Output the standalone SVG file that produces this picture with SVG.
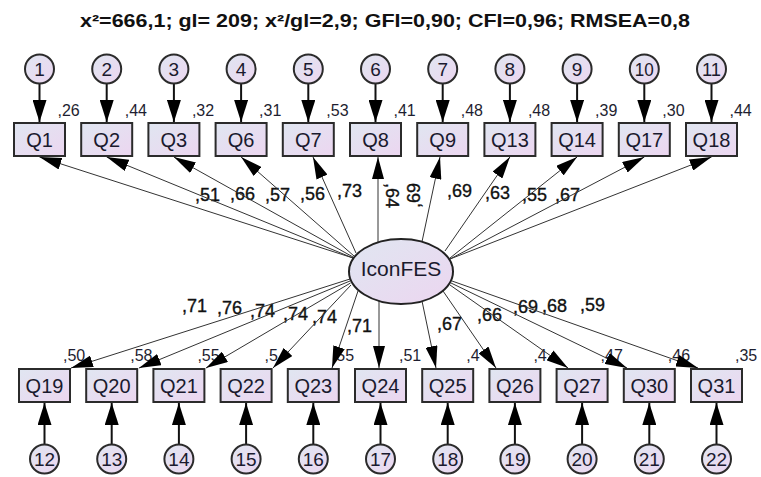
<svg xmlns="http://www.w3.org/2000/svg" width="761" height="477" viewBox="0 0 761 477">
<defs>
<linearGradient id="g" x1="0" y1="0" x2="1" y2="1">
<stop offset="0" stop-color="#e0e6f1"/>
<stop offset="1" stop-color="#ecd6f0"/>
</linearGradient>
<marker id="ah" markerUnits="userSpaceOnUse" markerWidth="22" markerHeight="12" refX="22" refY="6" orient="auto" viewBox="0 0 22 12">
<path d="M0,0 L22,6 L0,12 Z" fill="#000"/>
</marker>
<marker id="eh" markerUnits="userSpaceOnUse" markerWidth="22" markerHeight="14" refX="22" refY="7" orient="auto" viewBox="0 0 22 14">
<path d="M0,0 L22,7 L0,14 Z" fill="#000"/>
</marker>
<style>
.box{fill:url(#g);stroke:#2b2b2b;stroke-width:2}
.err{fill:url(#g);stroke:#2b2b2b;stroke-width:2}
.lat{fill:url(#g);stroke:#222;stroke-width:2}
text{font-family:"Liberation Sans",Arial,sans-serif}
.lbl{font-size:20px;fill:#1a1a2e;text-anchor:middle}
.elbl{font-size:19px;fill:#1a1a2e;text-anchor:middle}
.r2{font-size:16px;fill:#1e1e30}
.ld{font-size:18px;fill:#111;stroke:#111;stroke-width:0.35}
.title{font-size:18px;font-weight:bold;fill:#111;text-anchor:middle}
.p{stroke:#333;stroke-width:1;fill:none;marker-end:url(#ah)}
.e{stroke:#111;stroke-width:2;fill:none;marker-end:url(#eh)}
</style>
</defs>
<rect width="761" height="477" fill="#fff"/>
<text class="title" x="385" y="27" textLength="610" lengthAdjust="spacingAndGlyphs">x²=666,1; gl= 209; x²/gl=2,9; GFI=0,90; CFI=0,96; RMSEA=0,8</text>

<g id="labels">
<g class="r2">
<text x="57.5" y="115.5">,26</text>
<text x="124.7" y="115.5">,44</text>
<text x="191.9" y="115.5">,32</text>
<text x="259.1" y="115.5">,31</text>
<text x="326.3" y="115.5">,53</text>
<text x="393.5" y="115.5">,41</text>
<text x="460.7" y="115.5">,48</text>
<text x="527.9" y="115.5">,48</text>
<text x="595.1" y="115.5">,39</text>
<text x="662.3" y="115.5">,30</text>
<text x="729.5" y="115.5">,44</text>
<text x="63" y="361">,50</text>
<text x="130.2" y="361">,58</text>
<text x="197.4" y="361">,55</text>
<text x="264.6" y="361">,5</text>
<text x="331.8" y="361">,55</text>
<text x="399" y="361">,51</text>
<text x="466.2" y="361">,4</text>
<text x="533.4" y="361">,4</text>
<text x="600.6" y="361">,47</text>
<text x="667.8" y="361">,46</text>
<text x="735" y="361">,35</text>
</g>
<g class="ld">
<text x="195" y="201">,51</text>
<text x="230" y="200">,66</text>
<text x="265" y="201">,57</text>
<text x="300" y="200">,56</text>
<text x="337" y="197">,73</text>
<text transform="translate(386,183) rotate(90)">,64</text>
<text transform="translate(420,208) rotate(-90)">,69</text>
<text x="447" y="197">,69</text>
<text x="485" y="199">,63</text>
<text x="522" y="201">,55</text>
<text x="555" y="201">,67</text>
<text x="182" y="312">,71</text>
<text x="217" y="314">,76</text>
<text x="250" y="317">,74</text>
<text x="283" y="320">,74</text>
<text x="312" y="323">,74</text>
<text x="347" y="332">,71</text>
<text x="437" y="330">,67</text>
<text x="477" y="321">,66</text>
<text x="513" y="313">,69</text>
<text x="542" y="312">,68</text>
<text x="580" y="311">,59</text>
</g>
</g>

<g id="connectors">
<line class="p" x1="353" y1="258" x2="39.5" y2="157"/>
<line class="p" x1="353" y1="258" x2="106.7" y2="157"/>
<line class="p" x1="353" y1="257" x2="173.9" y2="157"/>
<line class="p" x1="354" y1="256" x2="241.1" y2="157"/>
<line class="p" x1="356" y1="253" x2="313" y2="157"/>
<line class="p" x1="378" y1="242" x2="378" y2="157"/>
<line class="p" x1="422" y1="241.7" x2="440" y2="157"/>
<line class="p" x1="445" y1="251" x2="509.9" y2="157"/>
<line class="p" x1="450" y1="258" x2="577.1" y2="157"/>
<line class="p" x1="450" y1="259" x2="644.3" y2="157"/>
<line class="p" x1="450" y1="259" x2="711.5" y2="157"/>
<line class="p" x1="350" y1="279" x2="71" y2="368"/>
<line class="p" x1="350" y1="281" x2="139" y2="368"/>
<line class="p" x1="350.5" y1="283" x2="206" y2="368"/>
<line class="p" x1="351" y1="285" x2="273" y2="368"/>
<line class="p" x1="358" y1="291" x2="332" y2="368"/>
<line class="p" x1="379" y1="301" x2="379" y2="368"/>
<line class="p" x1="422" y1="301" x2="436" y2="368"/>
<line class="p" x1="443" y1="291" x2="496" y2="368"/>
<line class="p" x1="450" y1="285" x2="568" y2="368"/>
<line class="p" x1="451" y1="283" x2="627" y2="368"/>
<line class="p" x1="452" y1="281" x2="698" y2="368"/>
<line class="e" x1="39.5" y1="83.5" x2="39.5" y2="122"/>
<line class="e" x1="106.7" y1="83.5" x2="106.7" y2="122"/>
<line class="e" x1="173.9" y1="83.5" x2="173.9" y2="122"/>
<line class="e" x1="241.1" y1="83.5" x2="241.1" y2="122"/>
<line class="e" x1="308.3" y1="83.5" x2="308.3" y2="122"/>
<line class="e" x1="375.5" y1="83.5" x2="375.5" y2="122"/>
<line class="e" x1="442.7" y1="83.5" x2="442.7" y2="122"/>
<line class="e" x1="509.9" y1="83.5" x2="509.9" y2="122"/>
<line class="e" x1="577.1" y1="83.5" x2="577.1" y2="122"/>
<line class="e" x1="644.3" y1="83.5" x2="644.3" y2="122"/>
<line class="e" x1="711.5" y1="83.5" x2="711.5" y2="122"/>
<line class="e" x1="44.5" y1="444.5" x2="44.5" y2="403"/>
<line class="e" x1="111.7" y1="444.5" x2="111.7" y2="403"/>
<line class="e" x1="178.9" y1="444.5" x2="178.9" y2="403"/>
<line class="e" x1="246.1" y1="444.5" x2="246.1" y2="403"/>
<line class="e" x1="313.3" y1="444.5" x2="313.3" y2="403"/>
<line class="e" x1="380.5" y1="444.5" x2="380.5" y2="403"/>
<line class="e" x1="447.7" y1="444.5" x2="447.7" y2="403"/>
<line class="e" x1="514.9" y1="444.5" x2="514.9" y2="403"/>
<line class="e" x1="582.1" y1="444.5" x2="582.1" y2="403"/>
<line class="e" x1="649.3" y1="444.5" x2="649.3" y2="403"/>
<line class="e" x1="716.5" y1="444.5" x2="716.5" y2="403"/>
</g>

<g id="IconFES"><ellipse class="lat" cx="401" cy="271.5" rx="52" ry="32.5"/><text x="401" y="276" font-size="21" fill="#1a1a2e" text-anchor="middle">IconFES</text></g>

<g id="Q1"><rect class="box" x="14" y="123" width="51" height="33"/><text class="lbl" x="39.5" y="146.5">Q1</text></g>
<g id="Q2"><rect class="box" x="81.2" y="123" width="51" height="33"/><text class="lbl" x="106.7" y="146.5">Q2</text></g>
<g id="Q3"><rect class="box" x="148.4" y="123" width="51" height="33"/><text class="lbl" x="173.9" y="146.5">Q3</text></g>
<g id="Q6"><rect class="box" x="215.6" y="123" width="51" height="33"/><text class="lbl" x="241.1" y="146.5">Q6</text></g>
<g id="Q7"><rect class="box" x="282.8" y="123" width="51" height="33"/><text class="lbl" x="308.3" y="146.5">Q7</text></g>
<g id="Q8"><rect class="box" x="350" y="123" width="51" height="33"/><text class="lbl" x="375.5" y="146.5">Q8</text></g>
<g id="Q9"><rect class="box" x="417.2" y="123" width="51" height="33"/><text class="lbl" x="442.7" y="146.5">Q9</text></g>
<g id="Q13"><rect class="box" x="484.4" y="123" width="51" height="33"/><text class="lbl" x="509.9" y="146.5">Q13</text></g>
<g id="Q14"><rect class="box" x="551.6" y="123" width="51" height="33"/><text class="lbl" x="577.1" y="146.5">Q14</text></g>
<g id="Q17"><rect class="box" x="618.8" y="123" width="51" height="33"/><text class="lbl" x="644.3" y="146.5">Q17</text></g>
<g id="Q18"><rect class="box" x="686" y="123" width="51" height="33"/><text class="lbl" x="711.5" y="146.5">Q18</text></g>

<g id="Q19"><rect class="box" x="19" y="369" width="51" height="33"/><text class="lbl" x="44.5" y="392.5">Q19</text></g>
<g id="Q20"><rect class="box" x="86.2" y="369" width="51" height="33"/><text class="lbl" x="111.7" y="392.5">Q20</text></g>
<g id="Q21"><rect class="box" x="153.4" y="369" width="51" height="33"/><text class="lbl" x="178.9" y="392.5">Q21</text></g>
<g id="Q22"><rect class="box" x="220.6" y="369" width="51" height="33"/><text class="lbl" x="246.1" y="392.5">Q22</text></g>
<g id="Q23"><rect class="box" x="287.8" y="369" width="51" height="33"/><text class="lbl" x="313.3" y="392.5">Q23</text></g>
<g id="Q24"><rect class="box" x="355" y="369" width="51" height="33"/><text class="lbl" x="380.5" y="392.5">Q24</text></g>
<g id="Q25"><rect class="box" x="422.2" y="369" width="51" height="33"/><text class="lbl" x="447.7" y="392.5">Q25</text></g>
<g id="Q26"><rect class="box" x="489.4" y="369" width="51" height="33"/><text class="lbl" x="514.9" y="392.5">Q26</text></g>
<g id="Q27"><rect class="box" x="556.6" y="369" width="51" height="33"/><text class="lbl" x="582.1" y="392.5">Q27</text></g>
<g id="Q30"><rect class="box" x="623.8" y="369" width="51" height="33"/><text class="lbl" x="649.3" y="392.5">Q30</text></g>
<g id="Q31"><rect class="box" x="691" y="369" width="51" height="33"/><text class="lbl" x="716.5" y="392.5">Q31</text></g>

<g id="e1"><circle class="err" cx="39.5" cy="69" r="14.5"/><text class="elbl" x="39.5" y="76">1</text></g>
<g id="e2"><circle class="err" cx="106.7" cy="69" r="14.5"/><text class="elbl" x="106.7" y="76">2</text></g>
<g id="e3"><circle class="err" cx="173.9" cy="69" r="14.5"/><text class="elbl" x="173.9" y="76">3</text></g>
<g id="e4"><circle class="err" cx="241.1" cy="69" r="14.5"/><text class="elbl" x="241.1" y="76">4</text></g>
<g id="e5"><circle class="err" cx="308.3" cy="69" r="14.5"/><text class="elbl" x="308.3" y="76">5</text></g>
<g id="e6"><circle class="err" cx="375.5" cy="69" r="14.5"/><text class="elbl" x="375.5" y="76">6</text></g>
<g id="e7"><circle class="err" cx="442.7" cy="69" r="14.5"/><text class="elbl" x="442.7" y="76">7</text></g>
<g id="e8"><circle class="err" cx="509.9" cy="69" r="14.5"/><text class="elbl" x="509.9" y="76">8</text></g>
<g id="e9"><circle class="err" cx="577.1" cy="69" r="14.5"/><text class="elbl" x="577.1" y="76">9</text></g>
<g id="e10"><circle class="err" cx="644.3" cy="69" r="14.5"/><text class="elbl" x="644.3" y="76" textLength="19" lengthAdjust="spacingAndGlyphs">10</text></g>
<g id="e11"><circle class="err" cx="711.5" cy="69" r="14.5"/><text class="elbl" x="711.5" y="76" textLength="19" lengthAdjust="spacingAndGlyphs">11</text></g>

<g id="e12"><circle class="err" cx="44.5" cy="459" r="14.5"/><text class="elbl" x="44.5" y="466">12</text></g>
<g id="e13"><circle class="err" cx="111.7" cy="459" r="14.5"/><text class="elbl" x="111.7" y="466">13</text></g>
<g id="e14"><circle class="err" cx="178.9" cy="459" r="14.5"/><text class="elbl" x="178.9" y="466">14</text></g>
<g id="e15"><circle class="err" cx="246.1" cy="459" r="14.5"/><text class="elbl" x="246.1" y="466">15</text></g>
<g id="e16"><circle class="err" cx="313.3" cy="459" r="14.5"/><text class="elbl" x="313.3" y="466">16</text></g>
<g id="e17"><circle class="err" cx="380.5" cy="459" r="14.5"/><text class="elbl" x="380.5" y="466">17</text></g>
<g id="e18"><circle class="err" cx="447.7" cy="459" r="14.5"/><text class="elbl" x="447.7" y="466">18</text></g>
<g id="e19"><circle class="err" cx="514.9" cy="459" r="14.5"/><text class="elbl" x="514.9" y="466">19</text></g>
<g id="e20"><circle class="err" cx="582.1" cy="459" r="14.5"/><text class="elbl" x="582.1" y="466">20</text></g>
<g id="e21"><circle class="err" cx="649.3" cy="459" r="14.5"/><text class="elbl" x="649.3" y="466">21</text></g>
<g id="e22"><circle class="err" cx="716.5" cy="459" r="14.5"/><text class="elbl" x="716.5" y="466">22</text></g>
</svg>
